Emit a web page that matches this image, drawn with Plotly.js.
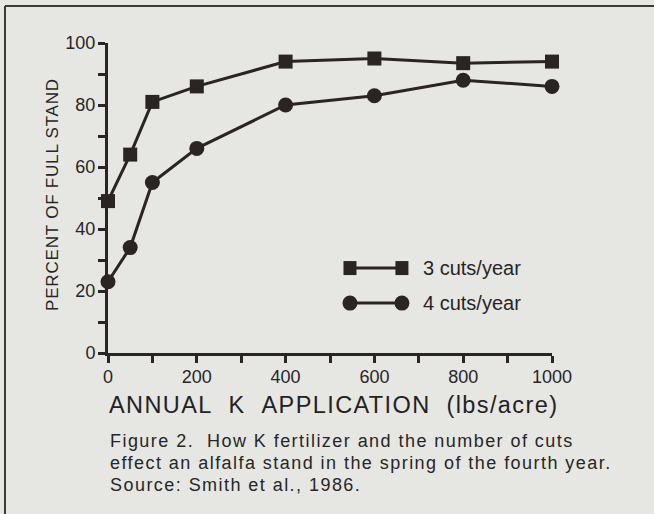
<!DOCTYPE html>
<html>
<head>
<meta charset="utf-8">
<script src="https://cdn.plot.ly/plotly-3.0.1.min.js"></script>
<style>
  html, body { margin: 0; padding: 0; background: #e6e6e3; }
  #chart { width: 654px; height: 514px; }
</style>
</head>
<body>
<div id="chart"></div>
<script>
// Data
var kApplication = [0, 50, 100, 200, 400, 600, 800, 1000];
var threeCuts = [49, 64, 81, 86, 94, 95, 93.5, 94];
var fourCuts = [23, 34, 55, 66, 80, 83, 88, 86];
var seriesNames = ['3 cuts/year', '4 cuts/year'];
var xTickVals = [0, 200, 400, 600, 800, 1000];
var yTickVals = [0, 20, 40, 60, 80, 100];

var ink = '#2a2422';
var txt = '#262626';
var font = 'Liberation Sans, Arial, Helvetica, sans-serif';

function spaced(s, px) {
  return '<span style="letter-spacing:' + px + 'px">' + s + '</span>';
}

var traces = [
  {
    x: kApplication, y: threeCuts, name: seriesNames[0],
    type: 'scatter', mode: 'lines+markers', cliponaxis: false,
    line: {color: ink, width: 3},
    marker: {symbol: 'square', size: 14, color: ink},
    showlegend: false
  },
  {
    x: kApplication, y: fourCuts, name: seriesNames[1],
    type: 'scatter', mode: 'lines+markers', cliponaxis: false,
    line: {color: ink, width: 3},
    marker: {symbol: 'circle', size: 15, color: ink},
    showlegend: false
  }
];

// legend drawn manually (line with a marker at each end)
var lgX0 = 0.545, lgX1 = 0.662, lgRows = [0.274, 0.161];
var shapes = [
  // border lines of the figure panel
  {type: 'line', xref: 'paper', yref: 'paper', x0: -0.232, x1: 1.25, y0: 1.119, y1: 1.119, line: {color: '#3a3a3a', width: 2}},
  {type: 'line', xref: 'paper', yref: 'paper', x0: -0.232, x1: -0.232, y0: 1.119, y1: -0.55, line: {color: '#3a3a3a', width: 2}}
];
lgRows.forEach(function (yy, i) {
  shapes.push({type: 'line', xref: 'paper', yref: 'paper', x0: lgX0, x1: lgX1, y0: yy, y1: yy, line: {color: ink, width: 3}});
  [lgX0, lgX1].forEach(function (xx) {
    shapes.push({
      type: i === 0 ? 'rect' : 'circle',
      xref: 'paper', yref: 'paper',
      xsizemode: 'pixel', ysizemode: 'pixel',
      xanchor: xx, yanchor: yy,
      x0: i === 0 ? -6.5 : -7.5, x1: i === 0 ? 6.5 : 7.5,
      y0: i === 0 ? -7 : -7.5, y1: i === 0 ? 7 : 7.5,
      fillcolor: ink, line: {color: ink, width: 0}
    });
  });
});

var capFont = {family: font, size: 18, color: txt};
var annotations = [
  {text: seriesNames[0], xref: 'paper', yref: 'paper', x: 0.705, y: lgRows[0], xanchor: 'left', yanchor: 'middle', showarrow: false, font: {family: font, size: 20, color: txt}},
  {text: seriesNames[1], xref: 'paper', yref: 'paper', x: 0.705, y: lgRows[1], xanchor: 'left', yanchor: 'middle', showarrow: false, font: {family: font, size: 20, color: txt}},
  {text: spaced('PERCENT OF FULL STAND', 0.8), xref: 'paper', yref: 'paper', x: -0.124, y: 0.513, textangle: -90, xanchor: 'center', yanchor: 'middle', showarrow: false, font: {family: font, size: 17, color: txt}},
  {text: spaced('ANNUAL&nbsp;&nbsp;K&nbsp;&nbsp;APPLICATION&nbsp;&nbsp;(lbs/acre)', 1.4), xref: 'paper', yref: 'paper', x: 0.507, y: -0.168, xanchor: 'center', yanchor: 'middle', showarrow: false, font: {family: font, size: 23.5, color: '#222'}},
  {text: spaced('Figure 2.&nbsp;&nbsp;How K fertilizer and the number of cuts', 1.45), xref: 'paper', yref: 'paper', x: 0.0, y: -0.285, xanchor: 'left', yanchor: 'middle', showarrow: false, font: capFont},
  {text: spaced('effect an alfalfa stand in the spring of the fourth year.', 1.45), xref: 'paper', yref: 'paper', x: 0.0, y: -0.355, xanchor: 'left', yanchor: 'middle', showarrow: false, font: capFont},
  {text: spaced('Source: Smith et al., 1986.', 1.45), xref: 'paper', yref: 'paper', x: 0.0, y: -0.426, xanchor: 'left', yanchor: 'middle', showarrow: false, font: capFont}
];

var layout = {
  width: 654, height: 514,
  margin: {l: 108, r: 102, t: 43, b: 161},
  paper_bgcolor: '#e6e6e3', plot_bgcolor: 'rgba(0,0,0,0)',
  font: {family: font, color: txt},
  showlegend: false,
  xaxis: {
    range: [0, 1000], tickvals: xTickVals, ticks: 'outside', ticklen: 7, tickwidth: 3, tickcolor: ink,
    showline: true, linecolor: ink, linewidth: 3, showgrid: false, zeroline: false,
    tickfont: {family: font, size: 18, color: txt}, ticklabelstandoff: -2,
    minor: {dtick: 100, tick0: 0, ticks: 'outside', ticklen: 7, tickwidth: 3, tickcolor: ink, showgrid: false}
  },
  yaxis: {
    range: [0, 100], tickvals: yTickVals, ticks: 'outside', ticklen: 7, tickwidth: 3, tickcolor: ink,
    showline: true, linecolor: ink, linewidth: 3, showgrid: false, zeroline: false,
    tickfont: {family: font, size: 18, color: txt}, ticklabelstandoff: -1,
    minor: {dtick: 10, tick0: 0, ticks: 'outside', ticklen: 7, tickwidth: 3, tickcolor: ink, showgrid: false}
  },
  shapes: shapes,
  annotations: annotations
};

Plotly.newPlot('chart', traces, layout, {staticPlot: true, displayModeBar: false});
</script>
</body>
</html>
